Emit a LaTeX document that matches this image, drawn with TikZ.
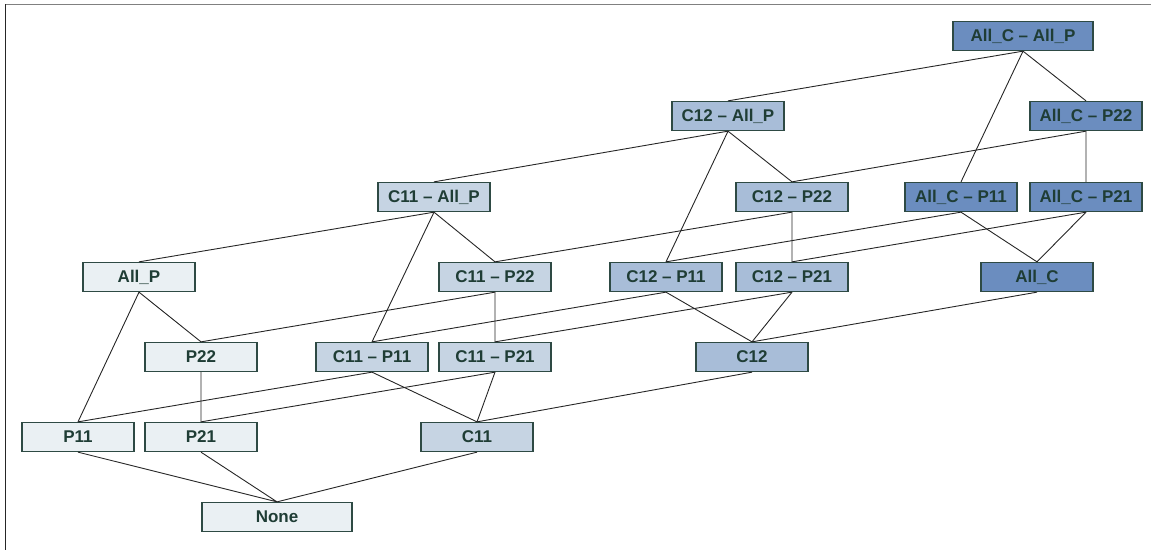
\documentclass[tikz,border=0pt]{standalone}
\usepackage{fontspec}
\setmainfont{Liberation Sans}
\usepackage{tikz}

\definecolor{fillP}{HTML}{EAF0F3}
\definecolor{fillCa}{HTML}{C6D4E3}
\definecolor{fillCb}{HTML}{A8BDD8}
\definecolor{fillCall}{HTML}{6B8DBF}
\definecolor{boxtext}{HTML}{1F3D35}
\definecolor{boxline}{HTML}{2E4A44}

\tikzset{
  lattice/.style={draw=boxline, line width=1.3pt, text=boxtext,
    font=\fontsize{17}{20}\selectfont\bfseries,
    minimum width=112pt, minimum height=29pt, inner sep=0pt},
  lvlP/.style={lattice, fill=fillP},
  lvlCa/.style={lattice, fill=fillCa},
  lvlCb/.style={lattice, fill=fillCb},
  lvlCall/.style={lattice, fill=fillCall},
  link/.style={draw=black!85, line width=0.9pt}
}

\begin{document}
\begin{tikzpicture}[x=1pt, y=-1pt]
  \useasboundingbox (0,0) rectangle (1151,550);
  % Cadre (haut et gauche)
  \draw[gray, line width=1.5pt] (5,4.5) -- (1151,4.5);
  \draw[black!85, line width=1.5pt] (5.5,4) -- (5.5,550);

  % Niveau P seul
  \node[lvlP, minimum width=150pt] (none) at (277,517) {None};
  \node[lvlP] (p11) at (78,437) {P11};
  \node[lvlP] (p21) at (201,437) {P21};
  \node[lvlP] (p22) at (201,357) {P22};
  \node[lvlP] (allp) at (139,277) {All\_P};

  % Niveau C11
  \node[lvlCa] (c11) at (477,437) {C11};
  \node[lvlCa] (c11p11) at (372,357) {C11 -- P11};
  \node[lvlCa] (c11p21) at (495,357) {C11 -- P21};
  \node[lvlCa] (c11p22) at (495,277) {C11 -- P22};
  \node[lvlCa] (c11allp) at (434,197) {C11 -- All\_P};

  % Niveau C12
  \node[lvlCb] (c12) at (752,357) {C12};
  \node[lvlCb] (c12p11) at (666,277) {C12 -- P11};
  \node[lvlCb] (c12p21) at (792,277) {C12 -- P21};
  \node[lvlCb] (c12p22) at (792,197) {C12 -- P22};
  \node[lvlCb] (c12allp) at (728,116) {C12 -- All\_P};

  % Niveau All_C
  \node[lvlCall] (allc) at (1037,277) {All\_C};
  \node[lvlCall] (allcp11) at (961,197) {All\_C -- P11};
  \node[lvlCall] (allcp21) at (1086,197) {All\_C -- P21};
  \node[lvlCall] (allcp22) at (1086,116) {All\_C -- P22};
  \node[lvlCall, minimum width=140pt] (allcallp) at (1023,36) {All\_C -- All\_P};

  % Liens dans chaque niveau C
  \draw[link] (none.north) -- (p11.south) (none.north) -- (p21.south)
    (p21.north) -- (p22.south) (p11.north) -- (allp.south) (p22.north) -- (allp.south);
  \draw[link] (c11.north) -- (c11p11.south) (c11.north) -- (c11p21.south)
    (c11p21.north) -- (c11p22.south) (c11p11.north) -- (c11allp.south) (c11p22.north) -- (c11allp.south);
  \draw[link] (c12.north) -- (c12p11.south) (c12.north) -- (c12p21.south)
    (c12p21.north) -- (c12p22.south) (c12p11.north) -- (c12allp.south) (c12p22.north) -- (c12allp.south);
  \draw[link] (allc.north) -- (allcp11.south) (allc.north) -- (allcp21.south)
    (allcp21.north) -- (allcp22.south) (allcp11.north) -- (allcallp.south) (allcp22.north) -- (allcallp.south);

  % Liens entre niveaux C
  \draw[link] (none.north) -- (c11.south) (p11.north) -- (c11p11.south) (p21.north) -- (c11p21.south)
    (p22.north) -- (c11p22.south) (allp.north) -- (c11allp.south);
  \draw[link] (c11.north) -- (c12.south) (c11p11.north) -- (c12p11.south) (c11p21.north) -- (c12p21.south)
    (c11p22.north) -- (c12p22.south) (c11allp.north) -- (c12allp.south);
  \draw[link] (c12.north) -- (allc.south) (c12p11.north) -- (allcp11.south) (c12p21.north) -- (allcp21.south)
    (c12p22.north) -- (allcp22.south) (c12allp.north) -- (allcallp.south);
\end{tikzpicture}
\end{document}
